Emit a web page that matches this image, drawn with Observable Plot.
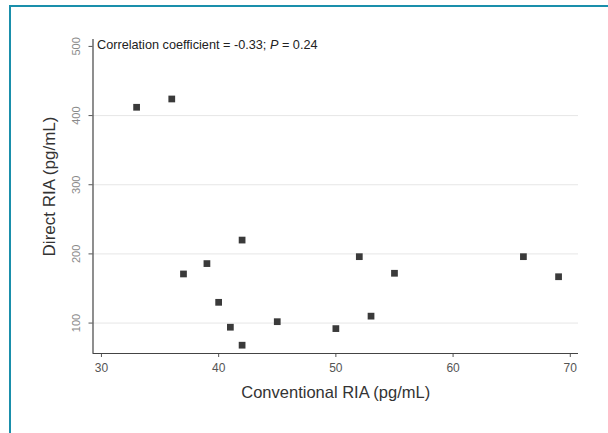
<!DOCTYPE html>
<html>
<head>
<meta charset="utf-8">
<script src="https://cdn.jsdelivr.net/npm/d3@7"></script>
<script src="https://cdn.jsdelivr.net/npm/@observablehq/plot@0.6"></script>
<style>
  html, body { margin: 0; padding: 0; background: #fff; }
  #wrap { position: relative; width: 608px; height: 433px; overflow: hidden; }
  #wrap svg { position: absolute; left: 0; top: 0; }
  #frame { position: absolute; left: 9px; top: 5px; width: 700px; height: 600px;
           border-top: 2px solid #1a8fab; border-left: 2px solid #1a8fab; pointer-events: none; }
</style>
</head>
<body>
<div id="wrap"><div id="frame"></div></div>
<script>
// Data
const conventional = [33, 36, 37, 39, 40, 41, 42, 42, 45, 50, 52, 53, 55, 66, 69];
const direct       = [412, 424, 171, 186, 130, 94, 220, 68, 102, 92, 196, 110, 172, 196, 167];
const xTicks = [30, 40, 50, 60, 70];
const yTicks = [100, 200, 300, 400, 500];
const gridTicks = [100, 200, 300, 400];
const xTitle = "Conventional RIA (pg/mL)";
const yTitle = "Direct RIA (pg/mL)";
const annoPrefix = "Correlation coefficient = -0.33; ";
const annoItalic = "P";
const annoSuffix = " = 0.24";

const points = conventional.map((c, i) => ({x: c, y: direct[i]}));
const xDomain = [29.28, 70.7];
const yDomain = [56, 510];
const font = "'Liberation Sans', Arial, sans-serif";

const chart = Plot.plot({
  width: 608,
  height: 433,
  marginLeft: 92.5,
  marginRight: 30,
  marginTop: 39,
  marginBottom: 80,
  style: {fontFamily: font, background: "transparent", overflow: "visible"},
  x: {domain: xDomain},
  y: {domain: yDomain},
  marks: [
    Plot.gridY(gridTicks, {stroke: "#e6e6e6", strokeOpacity: 1, strokeWidth: 1}),
    Plot.axisX({ticks: xTicks, tickSize: 4, tickPadding: 6, stroke: "#555", fill: "#555",
                fontSize: 12, label: null}),
    Plot.axisY({ticks: yTicks, tickSize: 4, tickFormat: () => "", stroke: "#555", label: null}),
    Plot.text(yTicks, {y: d => d, frameAnchor: "left", dx: -17, rotate: -90,
                       text: d => String(d), textAnchor: "middle", lineAnchor: "middle",
                       fill: "#8a8a8a", fontSize: 11}),
    Plot.text([xTitle], {frameAnchor: "bottom", dy: 39, text: d => d, fontSize: 16.5,
                         fill: "#333", lineAnchor: "middle"}),
    Plot.text([yTitle], {frameAnchor: "left", dx: -43.5, dy: -10, rotate: -90, text: d => d,
                         fontSize: 17, fill: "#333", textAnchor: "middle", lineAnchor: "middle"}),
    Plot.ruleX([xDomain[0]], {stroke: "#444", strokeWidth: 1.2}),
    Plot.ruleY([yDomain[0]], {stroke: "#444", strokeWidth: 1.2}),
    Plot.dot(points, {x: "x", y: "y", symbol: "square", r: 3.8, fill: "#3a3a3a", stroke: "none"}),
    Plot.text([annoPrefix + annoItalic + annoSuffix], {frameAnchor: "top-left", dx: 4, dy: 5,
               text: d => d, textAnchor: "start", lineAnchor: "middle", fontSize: 12.7, fill: "#222",
               className: "anno"})
  ]
});

// italicise the P in the annotation
d3.select(chart).selectAll("g.anno text").each(function() {
  const t = d3.select(this);
  t.text(null);
  t.append("tspan").text(annoPrefix);
  t.append("tspan").attr("font-style", "italic").text(annoItalic);
  t.append("tspan").text(annoSuffix);
});

document.getElementById("wrap").insertBefore(chart, document.getElementById("frame"));
</script>
</body>
</html>
